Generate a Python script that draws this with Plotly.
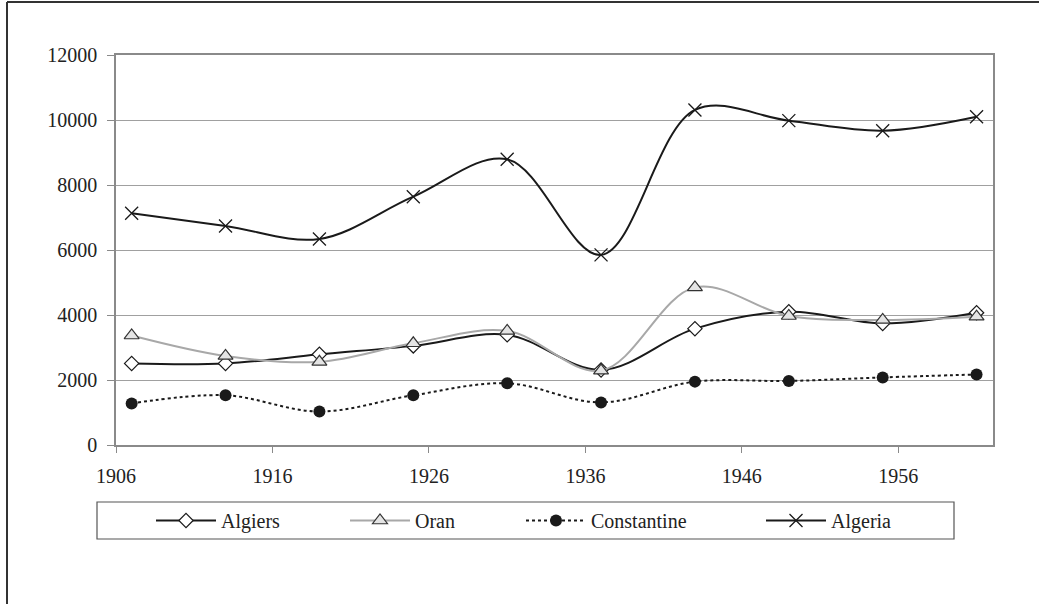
import plotly.graph_objects as go

years = [1907, 1913, 1919, 1925, 1931, 1937, 1943, 1949, 1955, 1961]
algiers = [2510, 2510, 2790, 3050, 3390, 2310, 3580, 4100, 3740, 4070]
oran = [3370, 2740, 2560, 3130, 3510, 2290, 4850, 3970, 3850, 3950]
constantine = [1280, 1530, 1030, 1530, 1900, 1310, 1950, 1970, 2080, 2170]
algeria = [7130, 6740, 6340, 7640, 8790, 5850, 10310, 9980, 9670, 10100]

x_ticks = [1906, 1916, 1926, 1936, 1946, 1956]
y_ticks = [0, 2000, 4000, 6000, 8000, 10000, 12000]

FONT = "Liberation Serif, Tinos, Times New Roman, DejaVu Serif, serif"

W, H = 1039, 604
L, R, T, B = 116, 993, 55, 445
pw, ph = R - L, B - T


def px(xp):
    return (xp - L) / pw


def py(yp):
    return (B - yp) / ph


fig = go.Figure()
fig.add_trace(go.Scatter(
    x=years, y=algiers, name="Algiers", mode="lines+markers", legend="legend",
    line=dict(color="#1a1a1a", width=2, shape="spline", smoothing=1),
    marker=dict(symbol="diamond", size=11, color="white", line=dict(color="#1a1a1a", width=1.2)),
))
fig.add_trace(go.Scatter(
    x=years, y=oran, name="Oran", mode="lines+markers", legend="legend2",
    line=dict(color="#a8a8a8", width=2, shape="spline", smoothing=1),
    marker=dict(symbol="triangle-up", size=13, color="#e4e4e4", line=dict(color="#333333", width=1.2)),
))
fig.add_trace(go.Scatter(
    x=years, y=constantine, name="Constantine", mode="lines+markers", legend="legend3",
    line=dict(color="#1a1a1a", width=2, dash="dot", shape="spline", smoothing=1),
    marker=dict(symbol="circle", size=12, color="#1a1a1a"),
))
fig.add_trace(go.Scatter(
    x=years, y=algeria, name="Algeria", mode="lines+markers", legend="legend4",
    line=dict(color="#1a1a1a", width=2, shape="spline", smoothing=1),
    marker=dict(symbol="x-thin-open", size=13, line=dict(color="#1a1a1a", width=1.3)),
))

shapes = [
    dict(type="rect", xref="paper", yref="paper", x0=px(97), x1=px(954), y0=py(539), y1=py(502),
         line=dict(color="#555555", width=1.2), fillcolor="rgba(0,0,0,0)"),
    dict(type="line", xref="paper", yref="paper", x0=px(7), x1=px(1045), y0=py(2), y1=py(2),
         line=dict(color="#333333", width=2)),
    dict(type="line", xref="paper", yref="paper", x0=px(7), x1=px(7), y0=py(2), y1=py(610),
         line=dict(color="#333333", width=2)),
]


def leg(text_x):
    return dict(x=px(text_x - 72), y=py(520.5), xanchor="left", yanchor="middle",
                orientation="h", font=dict(family=FONT, size=20, color="#222222"),
                bgcolor="rgba(0,0,0,0)", itemwidth=60)


fig.update_layout(
    width=W, height=H,
    margin=dict(l=L, r=W - R, t=T, b=H - B),
    paper_bgcolor="white", plot_bgcolor="white",
    font=dict(family=FONT, size=20, color="#222222"),
    showlegend=True,
    legend=leg(223), legend2=leg(417), legend3=leg(593), legend4=leg(833),
    shapes=shapes,
    xaxis=dict(range=[1906, 1962.05], tickvals=x_ticks, ticktext=[str(v) for v in x_ticks],
               showgrid=False, zeroline=False, showline=True, linecolor="#8a8a8a", linewidth=1.5,
               mirror=True, ticks="outside", ticklen=6, tickcolor="#8a8a8a",
               ticklabelstandoff=6, tickfont=dict(family=FONT, size=20, color="#222222")),
    yaxis=dict(range=[0, 12000], tickvals=y_ticks, ticktext=[str(v) for v in y_ticks],
               showgrid=True, gridcolor="#a0a0a0", gridwidth=1, zeroline=False,
               showline=True, linecolor="#8a8a8a", linewidth=1.5, mirror=True,
               ticks="outside", ticklen=7, tickcolor="#8a8a8a", ticklabelstandoff=6,
               tickfont=dict(family=FONT, size=20, color="#222222")),
)

fig.write_html("out.html", config={"displayModeBar": False},
               post_script="document.body.style.margin='0';document.body.style.overflow='hidden';")
